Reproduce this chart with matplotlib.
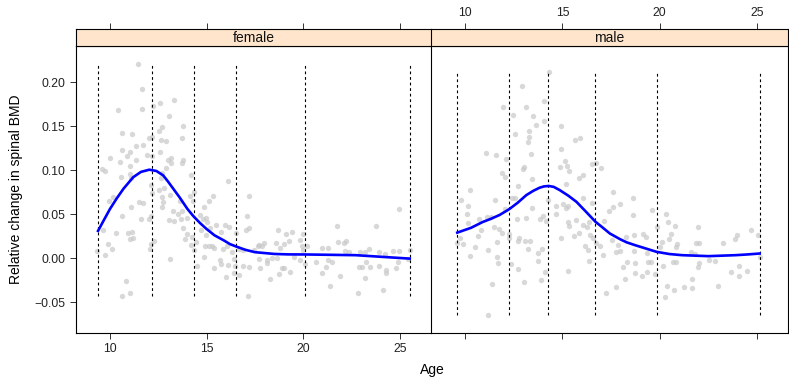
import matplotlib
matplotlib.use('Agg')
import matplotlib.pyplot as plt
import numpy as np

plt.rcParams['font.family'] = ['Liberation Sans', 'DejaVu Sans']

# (age, relative change in spinal BMD)
female_pts = np.array([
    (11.46, 0.221), (11.67, 0.192), (10.41, 0.168), (11.67, 0.170), (13.32, 0.180), (12.57, 0.176),
    (12.22, 0.173), (13.07, 0.161), (13.77, 0.150), (12.70, 0.149), (12.52, 0.145), (10.62, 0.142),
    (11.12, 0.141), (12.15, 0.138), (12.02, 0.136), (13.72, 0.137), (12.62, 0.134), (12.88, 0.133),
    (11.72, 0.128), (11.36, 0.127), (10.62, 0.123), (11.05, 0.121), (12.60, 0.121), (10.86, 0.116),
    (11.93, 0.117), (12.17, 0.116), (10.02, 0.114), (11.36, 0.112), (13.17, 0.114), (12.98, 0.112),
    (13.77, 0.111), (10.50, 0.109), (13.17, 0.108), (13.70, 0.108), (11.02, 0.105), (12.91, 0.102),
    (9.60, 0.101), (9.76, 0.099), (10.57, 0.092), (11.03, 0.096), (14.20, 0.095), (12.70, 0.097),
    (16.11, 0.088), (11.10, 0.091), (12.62, 0.091), (12.12, 0.083), (12.52, 0.077), (12.79, 0.080),
    (13.12, 0.072), (12.70, 0.070), (12.19, 0.074), (9.96, 0.065), (10.17, 0.070), (11.48, 0.064),
    (11.72, 0.0625), (11.07, 0.058), (12.69, 0.058), (12.74, 0.064), (13.62, 0.0655), (14.13, 0.071),
    (14.33, 0.075), (14.29, 0.0655), (15.12, 0.0655), (15.32, 0.071), (13.24, 0.054), (13.70, 0.054),
    (13.51, 0.050), (13.99, 0.046), (13.05, 0.0435), (13.29, 0.042), (13.67, 0.0447), (10.62, 0.048),
    (11.60, 0.044), (12.02, 0.044), (12.12, 0.048), (14.86, 0.058), (14.67, 0.049), (14.82, 0.045),
    (14.98, 0.046), (15.01, 0.041), (15.48, 0.0375), (15.96, 0.0375), (16.17, 0.0356), (13.79, 0.0344),
    (15.17, 0.034), (14.70, 0.032), (9.65, 0.032), (10.31, 0.029), (10.91, 0.029), (11.12, 0.030),
    (11.17, 0.023), (11.03, 0.022), (13.96, 0.028), (14.98, 0.026), (15.75, 0.030), (16.49, 0.029),
    (17.03, 0.032), (17.17, 0.034), (17.10, 0.048), (17.20, 0.071), (13.86, 0.022), (14.24, 0.0235),
    (14.46, 0.0185), (14.20, 0.0144), (14.89, 0.014), (15.10, 0.014), (15.29, 0.014), (15.37, 0.011),
    (15.86, 0.010), (16.06, 0.0136), (16.30, 0.0065), (16.68, 0.010), (16.89, 0.0088), (17.43, 0.009),
    (17.65, 0.014), (9.34, 0.0076), (9.76, 0.0038), (9.91, 0.016), (10.12, 0.010), (12.10, 0.016),
    (12.27, 0.020), (12.07, 0.010), (14.33, 0.0088), (14.87, 0.0008), (13.12, -0.0008), (15.70, -0.0026),
    (15.74, -0.0068), (16.10, -0.0072), (16.41, -0.0011), (14.51, -0.0087), (15.36, -0.0114),
    (16.48, -0.009), (16.88, -0.009), (17.20, -0.0099), (16.39, -0.0167), (16.67, -0.0193),
    (16.01, -0.0216), (10.81, -0.0258), (11.02, -0.040), (10.60, -0.043), (17.12, -0.0435),
    (18.70, 0.032), (19.11, 0.027), (19.41, 0.030), (19.27, 0.020), (19.80, 0.021), (19.96, 0.027),
    (17.70, 0.0145), (17.94, 0.0167), (17.87, 0.0133), (18.56, 0.0167), (19.01, 0.0156), (18.79, 0.011),
    (19.91, 0.0136), (20.20, 0.0136), (19.99, 0.009), (20.94, 0.012), (21.25, 0.011), (21.77, 0.018),
    (22.11, 0.0167), (22.21, 0.019), (21.72, 0.0367), (22.15, 0.008), (22.37, 0.0065), (22.92, 0.0072),
    (23.40, 0.010), (23.21, 0.0065), (23.90, 0.0072), (23.76, 0.037), (24.21, 0.005), (24.63, 0.0076),
    (24.95, 0.0083), (25.52, 0.0094), (24.95, 0.056), (17.68, -0.0008), (18.10, -0.0023), (18.10, -0.006),
    (18.39, 0.0003), (18.63, 0.0003), (18.98, -0.011), (18.91, -0.0117), (17.75, -0.0117), (19.30, -0.0155),
    (18.72, -0.0178), (19.52, 0.0008), (19.83, -0.0023), (20.08, -0.0064), (20.63, -0.0038),
    (21.28, -0.0019), (21.49, -0.0049), (21.16, -0.0099), (20.97, -0.0167), (21.87, -0.020),
    (18.25, -0.024), (21.37, -0.0314), (22.80, -0.040), (22.90, -0.0099), (23.04, -0.0099),
    (23.24, -0.0045), (23.42, -0.0102), (23.21, -0.023), (23.89, -0.009), (24.26, -0.0136),
    (24.25, -0.017), (24.11, -0.0356), (24.78, -0.0114), (24.87, -0.0049), (25.41, -0.0015),
])

male_pts = np.array([
    (14.29, 0.2117), (12.93, 0.1955), (14.03, 0.178), (11.93, 0.172), (13.14, 0.172), (12.48, 0.1625),
    (13.48, 0.162), (14.03, 0.156), (13.63, 0.151), (14.95, 0.150), (13.27, 0.1447), (12.58, 0.141),
    (13.26, 0.138), (13.22, 0.1315), (15.91, 0.1367), (15.63, 0.1337), (14.95, 0.124), (11.09, 0.119),
    (11.59, 0.117), (13.38, 0.118), (12.08, 0.113), (15.13, 0.110), (15.23, 0.105), (14.87, 0.104),
    (13.03, 0.104), (12.98, 0.101), (15.32, 0.099), (16.53, 0.107), (16.70, 0.1076), (16.98, 0.102),
    (11.88, 0.0966), (12.07, 0.092), (16.08, 0.094), (15.86, 0.091), (13.43, 0.0894), (15.18, 0.0837),
    (12.69, 0.0815), (10.24, 0.077), (12.38, 0.068), (12.55, 0.068), (11.53, 0.066), (9.79, 0.066),
    (10.14, 0.0595), (13.41, 0.057), (14.25, 0.066), (14.69, 0.059), (15.05, 0.062), (15.29, 0.059),
    (15.20, 0.0565), (16.06, 0.068), (16.50, 0.063), (17.39, 0.054), (17.61, 0.0576), (17.58, 0.0753),
    (12.03, 0.0557), (10.07, 0.0497), (10.72, 0.0443), (11.12, 0.047), (11.33, 0.0466), (12.67, 0.0447),
    (13.14, 0.0458), (13.86, 0.0443), (14.00, 0.048), (14.13, 0.0424), (14.65, 0.050), (15.29, 0.0413),
    (15.36, 0.0367), (15.72, 0.0432), (16.08, 0.0378), (16.37, 0.0413), (16.25, 0.0356), (17.13, 0.0424),
    (10.12, 0.040), (10.81, 0.032), (11.50, 0.0356), (11.76, 0.0337), (11.90, 0.029), (12.26, 0.028),
    (9.71, 0.0224), (9.59, 0.0167), (9.91, 0.016), (10.64, 0.0253), (10.48, 0.0128), (11.65, 0.018),
    (12.24, 0.0224), (12.74, 0.0224), (12.72, 0.019), (13.06, 0.019), (13.32, 0.0197), (13.22, 0.010),
    (14.95, 0.0224), (15.58, 0.0247), (15.86, 0.029), (16.41, 0.026), (16.55, 0.0224), (16.70, 0.0167),
    (16.16, 0.014), (16.32, 0.009), (16.93, 0.014), (17.53, 0.0205), (17.74, 0.0065), (17.11, 0.0034),
    (10.22, 0.002), (11.17, 0.0088), (11.64, 0.0015), (11.69, -0.006), (12.36, -0.0068), (13.74, 0.006),
    (13.96, 0.010), (13.72, -0.003), (12.69, -0.0125), (14.08, -0.0155), (15.26, -0.0144), (16.39, -0.003),
    (13.01, -0.027), (13.88, -0.025), (11.36, -0.0295), (17.22, -0.040), (17.74, -0.0326), (11.19, -0.0644),
    (18.65, 0.0686), (17.97, 0.0614), (19.63, 0.0545), (18.61, 0.0485), (20.32, 0.050), (20.42, 0.0406),
    (20.77, 0.0367), (19.87, 0.0356), (21.97, 0.0349), (24.68, 0.0315), (19.16, 0.0273), (19.29, 0.0242),
    (18.68, 0.0258), (20.58, 0.027), (23.97, 0.026), (18.27, 0.0242), (20.49, 0.0216), (23.87, 0.0213),
    (25.07, 0.026), (20.11, 0.0185), (20.90, 0.0163), (21.89, 0.0174), (22.00, 0.0167), (23.27, 0.0174),
    (17.87, 0.0144), (20.03, 0.0125), (20.84, 0.0122), (21.61, 0.0065), (21.83, 0.0053), (18.68, 0.008),
    (17.96, 0.0076), (19.37, 0.006), (22.52, -0.0026), (22.87, -0.0034), (22.00, -0.0053), (20.66, -0.0049),
    (20.86, -0.0049), (20.17, -0.009), (19.39, -0.0042), (19.56, -0.0049), (18.34, -0.0038), (18.73, -0.0053),
    (18.10, -0.0099), (21.97, -0.0099), (24.07, -0.009), (24.49, -0.0144), (23.66, -0.0155), (24.07, -0.0205),
    (18.73, -0.0174), (19.08, -0.0205), (19.37, -0.0155), (19.77, -0.018), (18.22, -0.024), (21.66, -0.0242),
    (20.37, -0.0314), (21.23, -0.0333), (21.68, -0.034), (23.02, -0.0314), (20.73, -0.0367), (20.28, -0.0443),
    (25.14, 0.0015),
])

# smoothing spline fits
female_fit_age = [9.38, 9.7, 10.0, 10.35, 10.7, 11.2, 11.6, 12.03, 12.4, 12.75, 13.0, 13.3, 13.6,
                  14.0, 14.3, 14.65, 15.0, 15.4, 15.9, 16.2, 16.55, 17.0, 17.5, 18.5, 19.2, 20.1,
                  22.7, 25.5]
female_fit_bmd = [0.031, 0.044, 0.056, 0.068, 0.079, 0.092, 0.098, 0.1005, 0.099, 0.094, 0.087, 0.078,
                  0.069, 0.056, 0.048, 0.040, 0.033, 0.026, 0.020, 0.016, 0.013, 0.0095, 0.0068,
                  0.0048, 0.0043, 0.0042, 0.0034, -0.0005]
male_fit_age = [9.59, 10.3, 10.89, 11.3, 11.76, 12.24, 12.7, 13.14, 13.5, 13.82, 14.05, 14.29, 14.55,
                14.86, 15.3, 15.72, 16.2, 16.70, 17.0, 17.44, 17.96, 18.3, 18.73, 19.84, 20.5,
                21.15, 22.52, 23.90, 24.5, 25.14]
male_fit_bmd = [0.029, 0.0345, 0.041, 0.0445, 0.049, 0.0553, 0.063, 0.0716, 0.0765, 0.080, 0.0815,
                0.082, 0.081, 0.0773, 0.071, 0.064, 0.053, 0.0413, 0.036, 0.028, 0.0216, 0.018,
                0.0148, 0.0072, 0.0047, 0.0034, 0.0023, 0.0034, 0.0042, 0.0053]

# knot positions (dashed verticals)
female_knots = [9.36, 12.17, 14.33, 16.50, 20.09, 25.52]
male_knots = [9.59, 12.24, 14.27, 16.68, 19.84, 25.18]

x_ticks = [10, 15, 20, 25]
y_ticks = [-0.05, 0.0, 0.05, 0.10, 0.15, 0.20]

W, H = 789, 380
fig = plt.figure(figsize=(W / 100, H / 100), dpi=100)


def box(x0, y0, x1, y1):
    return [x0 / W, 1 - y1 / H, (x1 - x0) / W, (y1 - y0) / H]


panels = [
    ('female', female_pts, female_fit_age, female_fit_bmd, female_knots, 76, 431),
    ('male', male_pts, male_fit_age, male_fit_bmd, male_knots, 431, 788),
]

for i, (name, pts, fa, fb, knots, x0, x1) in enumerate(panels):
    ax = fig.add_axes(box(x0, 46, x1, 333))
    ax.scatter(pts[:, 0], pts[:, 1], s=15, color='#c8c8c8', alpha=0.7, linewidths=0, zorder=1)
    lo, hi = pts[:, 1].min(), pts[:, 1].max()
    for k in knots:
        ax.plot([k, k], [lo, hi], color='black', lw=0.8, dashes=(2.5, 2.5), zorder=2)
    ax.plot(fa, fb, color='#0000ff', lw=1.9, zorder=3, solid_joinstyle='round')
    ax.set_xlim(8.24, 26.6)
    ax.set_ylim(-0.085, 0.241)
    ax.set_xticks(x_ticks)
    ax.tick_params(axis='both', direction='out', length=4.5, width=0.7, labelsize=8.8, pad=3,
                   color='#333333', labelcolor='#222222')
    if i == 0:
        ax.set_yticks(y_ticks)
        ax.set_yticklabels([f'{v:.2f}'.replace('-', '\u2212') for v in y_ticks])
        ax.spines['right'].set_visible(False)
    else:
        ax.set_yticks([])
        ax.set_xticklabels([])
    for sp in ax.spines.values():
        sp.set_linewidth(0.8)

    st = fig.add_axes(box(x0, 29, x1, 46))
    st.set_facecolor('#ffe5cc')
    st.set_xlim(8.24, 26.6)
    st.set_ylim(0, 1)
    st.set_yticks([])
    st.set_xticks(x_ticks)
    st.xaxis.tick_top()
    st.tick_params(axis='x', direction='out', length=4.5, width=0.7, labelsize=8.8, pad=3,
                   color='#333333', labelcolor='#222222')
    if i == 0:
        st.set_xticklabels([])
        st.spines['right'].set_visible(False)
    for sp in st.spines.values():
        sp.set_linewidth(0.8)
    st.text(0.5, 0.45, name, transform=st.transAxes, ha='center', va='center', fontsize=10,
            color='#111111')

fig.text(432 / W, 1 - 370 / H, 'Age', ha='center', va='center', fontsize=10)
fig.text(16 / W, 1 - 189 / H, 'Relative change in spinal BMD', ha='center', va='center',
         rotation=90, fontsize=10)

fig.savefig('out.png', dpi=100)
